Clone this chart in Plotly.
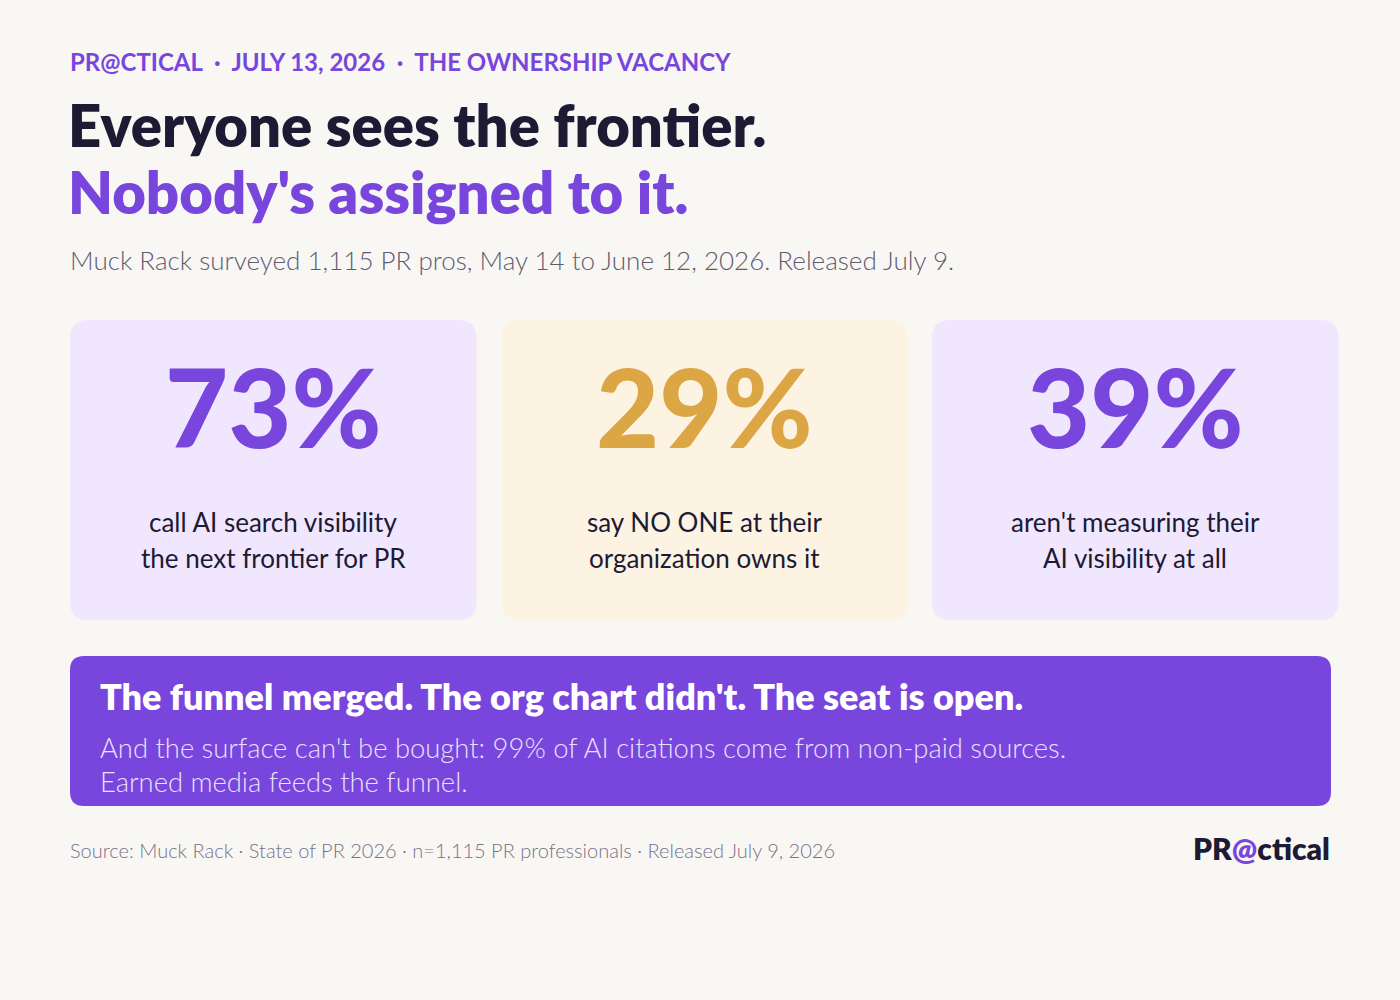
import plotly.graph_objects as go

# ---- content ----
kicker = ["PR@CTICAL", "JULY 13, 2026", "THE OWNERSHIP VACANCY"]
title_1 = "Everyone sees the frontier."
title_2 = "Nobody's assigned to it."
subtitle = "Muck Rack surveyed 1,115 PR pros, May 14 to June 12, 2026. Released July 9."

stat_values = [73, 29, 39]
stat_lines = [
    ["call AI search visibility", "the next frontier for PR"],
    ["say NO ONE at their", "organization owns it"],
    ["aren't measuring their", "AI visibility at all"],
]
stat_accent = ["purple", "amber", "purple"]

banner_head = "The funnel merged. The org chart didn't. The seat is open."
banner_body = [
    "And the surface can't be bought: 99% of AI citations come from non-paid sources.",
    "Earned media feeds the funnel.",
]
source_note = "Source: Muck Rack · State of PR 2026 · n=1,115 PR professionals · Released July 9, 2026"

# ---- styles ----
BG = "#F9F7F4"
INK = "#1D1A33"
PURPLE = "#7846DC"
GREY = "#5F5B72"
card_fill = {"purple": "#F0E7FE", "amber": "#FDF3E3"}
num_color = {"purple": "#7846DC", "amber": "#DDA645"}
FONT = "Lato"

W, H = 1400, 1000


def rounded(x0, y0, x1, y1, r):
    return (f"M {x0+r},{y0} L {x1-r},{y0} Q {x1},{y0} {x1},{y0+r} "
            f"L {x1},{y1-r} Q {x1},{y1} {x1-r},{y1} L {x0+r},{y1} "
            f"Q {x0},{y1} {x0},{y1-r} L {x0},{y0+r} Q {x0},{y0} {x0+r},{y0} Z")


fig = go.Figure()
shapes = []
ann = []


def txt(x, y, text, size, color, weight=400, xanchor="left"):
    ann.append(dict(x=x, y=y, xref="x", yref="y", text=text, showarrow=False,
                    xanchor=xanchor, yanchor="middle",
                    font=dict(family=FONT, size=size, color=color, weight=weight)))


# header
sep = "\u00a0\u00a0·\u00a0\u00a0"
txt(68, 61, sep.join(kicker), 24, PURPLE, 700)
txt(66, 124, title_1, 58, INK, 800)
txt(66, 191, title_2, 58, PURPLE, 800)
txt(68, 260, subtitle, 26, GREY, 300)

# stat cards
card_w, gap = 406.5, 24.5
for i, (val, lines, acc) in enumerate(zip(stat_values, stat_lines, stat_accent)):
    x0 = 70 + i * (card_w + gap)
    x1 = x0 + card_w
    shapes.append(dict(type="path", path=rounded(x0, 320, x1, 620, 18), xref="x", yref="y",
                       fillcolor=card_fill[acc], line=dict(width=0), layer="below"))
    cx = (x0 + x1) / 2
    txt(cx, 405, f"{val}%", 109, num_color[acc], 900, "center")
    for j, line in enumerate(lines):
        txt(cx, 522 + j * 36, line, 26, INK, 400, "center")

# banner
shapes.append(dict(type="path", path=rounded(70, 656, 1331, 806, 14), xref="x", yref="y",
                   fillcolor=PURPLE, line=dict(width=0), layer="below"))
txt(98, 696, banner_head, 36, "white", 800)
for j, line in enumerate(banner_body):
    txt(98, 747 + j * 34, line, 27.4, "#EAE0FC", 300)

# footer
txt(68, 850, source_note, 20, "#76728A", 300)
txt(1332, 848, f"PR<span style='color:{PURPLE}'>@</span>ctical", 30, INK, 800, "right")

fig.update_layout(
    width=W, height=H,
    margin=dict(l=0, r=0, t=0, b=0),
    paper_bgcolor=BG, plot_bgcolor=BG,
    shapes=shapes, annotations=ann,
    xaxis=dict(range=[0, W], visible=False, fixedrange=True),
    yaxis=dict(range=[H, 0], visible=False, fixedrange=True),
    showlegend=False,
)
fig.write_html("out.html", config={"displayModeBar": False},
               post_script=f"document.body.style.margin='0';document.body.style.background='{BG}';")
